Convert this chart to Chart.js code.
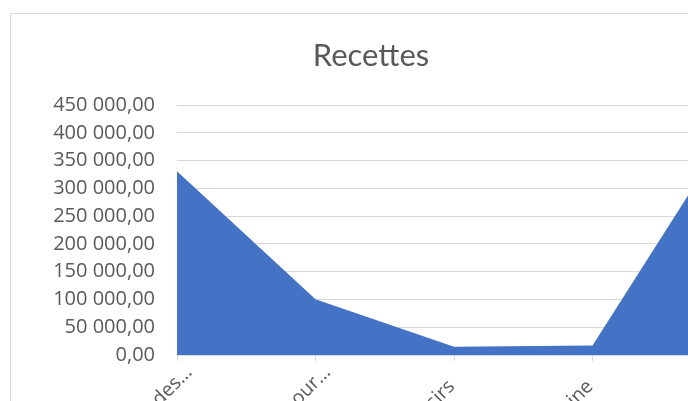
<!DOCTYPE html>
<html>
<head>
<meta charset="utf-8">
<script src="https://cdn.jsdelivr.net/npm/chart.js@4/dist/chart.umd.min.js"></script>
<style>
  html, body { margin: 0; padding: 0; background: #ffffff; overflow: hidden; width: 688px; height: 401px; }
  #frame { position: absolute; left: 10px; top: 13px; width: 800px; height: 480px; border: 1px solid #d9d9d9; box-sizing: border-box; }
  #c { position: absolute; left: 0px; top: 0px; }
</style>
</head>
<body>
<div id="frame"><canvas id="c" width="760" height="460"></canvas></div>
<script>
// Data
const chartTitle = "Recettes";
const categories = ["Ventes des…", "Cotisations pour…", "Loisirs    ", "Cuisine    ", "Subventions    "];
const recettes = [331000, 100500, 14800, 17300, 409000];
const yTicks = [0, 50000, 100000, 150000, 200000, 250000, 300000, 350000, 400000, 450000];

function frNumber(v) {
  const s = Math.round(v).toString().replace(/\B(?=(\d{3})+(?!\d))/g, " ");
  return s + ",00";
}

const textColor = "#595959";
const gridColor = "#d9d9d9";

new Chart(document.getElementById("c"), {
  type: "line",
  data: {
    labels: categories,
    datasets: [{
      label: chartTitle,
      data: recettes,
      fill: "origin",
      backgroundColor: "#4472C4",
      borderColor: "#4472C4",
      borderWidth: 0,
      pointRadius: 0,
      tension: 0
    }]
  },
  options: {
    responsive: false,
    animation: false,
    layout: { padding: { left: 0, right: 40, top: 0, bottom: 0 } },
    plugins: {
      legend: { display: false },
      tooltip: { enabled: false },
      title: {
        display: true,
        text: chartTitle,
        color: textColor,
        font: { family: "Lato, 'Open Sans', sans-serif", size: 31, weight: "normal" },
        padding: { top: 23, bottom: 31 }
      }
    },
    scales: {
      x: {
        offset: false,
        grid: { display: true, drawOnChartArea: false, drawTicks: true, tickLength: 6, color: gridColor },
        border: { display: true, color: gridColor, width: 1 },
        ticks: {
          autoSkip: false,
          minRotation: 45,
          maxRotation: 45,
          color: textColor,
          padding: 0,
          labelOffset: 12,
          font: { family: "'Open Sans', sans-serif", size: 19.5 }
        },
        afterFit(scale) { scale.height = 119; }
      },
      y: {
        min: 0,
        max: 450000,
        afterBuildTicks(scale) { scale.ticks = yTicks.map(v => ({ value: v })); },
        grid: { color: gridColor, lineWidth: 1, drawTicks: false },
        border: { display: false },
        ticks: {
          color: textColor,
          padding: 22,
          font: { family: "'Open Sans', sans-serif", size: 20 },
          callback: (v) => frNumber(v)
        },
        afterFit(scale) { scale.width = 166; }
      }
    }
  }
});
</script>
</body>
</html>
